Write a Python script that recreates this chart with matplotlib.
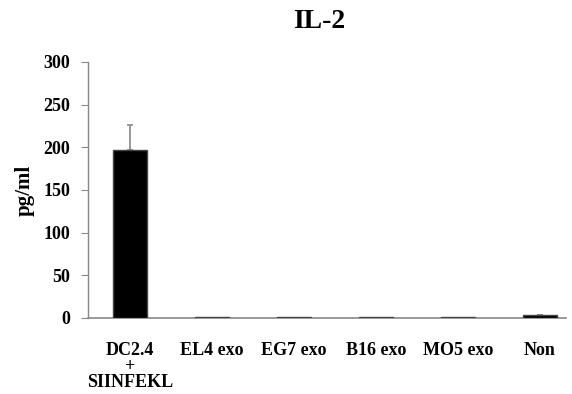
import matplotlib
matplotlib.use("Agg")
import matplotlib.pyplot as plt

categories = ["DC2.4\n+\nSIINFEKL", "EL4 exo", "EG7 exo", "B16 exo", "MO5 exo", "Non"]
values = [197, 1.5, 1.5, 1.5, 1.5, 3]
errors = [29, 0, 0, 0, 0, 1]

plt.rcParams['font.family'] = ['Liberation Serif', 'DejaVu Serif']
plt.rcParams['font.weight'] = 'bold'

fig = plt.figure(figsize=(5.72, 3.94), dpi=100)
ax = fig.add_axes([88/572, 1-318/394, (566-88)/572, (318-62)/394])

x = list(range(len(categories)))
ax.bar(x, values, width=0.41, color='black', edgecolor='#444444', linewidth=1.0, zorder=3)
ex = [i for i in x if errors[i] > 0]
ax.errorbar(ex, [values[i] for i in ex], yerr=[[0]*len(ex), [errors[i] for i in ex]],
            fmt='none', ecolor='#888888', elinewidth=1.2, capsize=2, capthick=1.2, zorder=2)

ax.set_ylim(0, 300)
ax.set_xlim(-0.51, 5.32)
ax.set_yticks([0, 50, 100, 150, 200, 250, 300])
ax.set_xticks(x)
ax.set_xticklabels(categories, fontsize=13, fontweight='bold', linespacing=0.95, va='top')
ax.tick_params(axis='x', length=0, pad=17)
ax.tick_params(axis='y', length=5, color='#888888', labelsize=13, pad=8)
for lab in ax.get_yticklabels():
    lab.set_fontweight('bold')

for s in ['top', 'right']:
    ax.spines[s].set_visible(False)
ax.spines['left'].set_color('#888888')
ax.spines['bottom'].set_color('#888888')
ax.spines['left'].set_linewidth(1.0)
ax.spines['bottom'].set_linewidth(1.2)

ax.set_ylabel("pg/ml", fontsize=15, fontweight='bold', labelpad=6)
fig.text(319/572, 1-22/394, "IL-2", ha='center', va='center', fontsize=20, fontweight='bold')

fig.savefig("out.png", dpi=100)
